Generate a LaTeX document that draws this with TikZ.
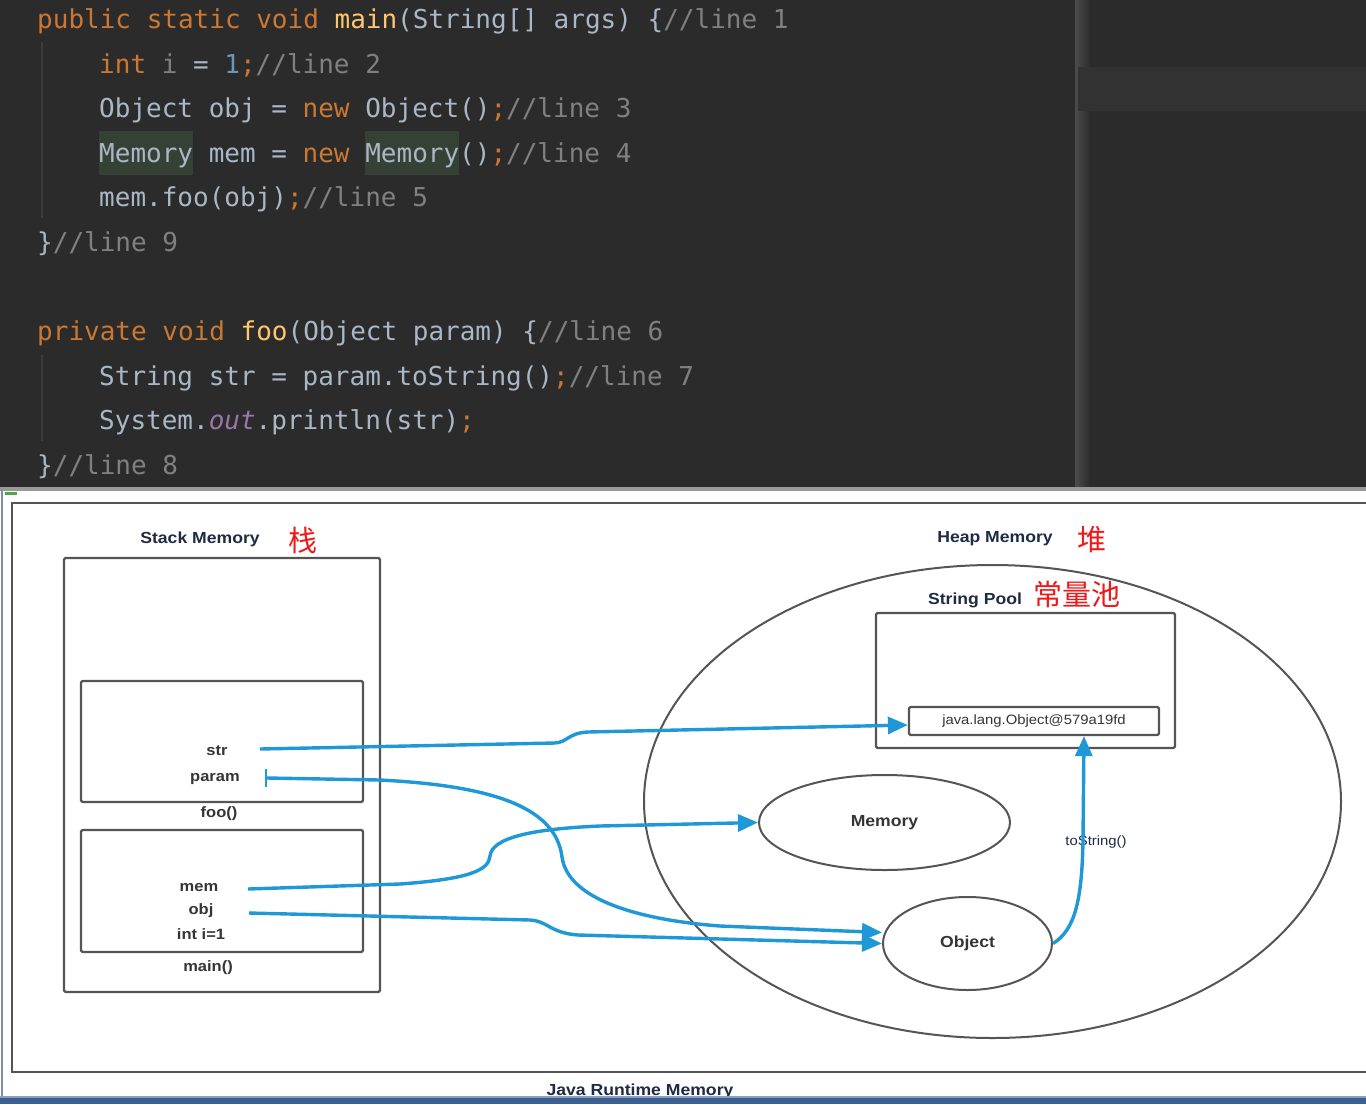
\documentclass[tikz,border=0pt]{standalone}
\usepackage{fontspec}
\setmainfont{Liberation Sans}
\newfontfamily\codefont{DejaVu Sans Mono}
\newfontfamily\cjkfont{Noto Sans CJK SC}
\newfontfamily\diagfont[FakeStretch=1.1]{Liberation Sans}
\usetikzlibrary{arrows.meta,shapes.geometric}
\definecolor{codebg}{HTML}{2B2B2B}
\definecolor{bandc}{HTML}{323232}
\definecolor{sepc}{HTML}{4A4A4A}
\definecolor{guidec}{HTML}{3C3C3C}
\definecolor{kw}{HTML}{CC7832}
\definecolor{fn}{HTML}{FFC66D}
\definecolor{txt}{HTML}{A9B7C6}
\definecolor{cm}{HTML}{808080}
\definecolor{num}{HTML}{6897BB}
\definecolor{pur}{HTML}{9876AA}
\definecolor{hl}{HTML}{344134}
\definecolor{framec}{HTML}{555555}
\definecolor{headc}{HTML}{1F2A44}
\definecolor{lblc}{HTML}{353535}
\definecolor{redc}{HTML}{F01818}
\definecolor{ptrc}{HTML}{1E98D6}
\definecolor{barc}{HTML}{3B5F91}
\definecolor{edgec}{HTML}{7A90B2}
\tikzset{
  code/.style={anchor=base west, inner sep=0pt, font=\codefont\fontsize{26}{26}\selectfont},
  hd/.style={inner sep=0pt, text=headc, font=\diagfont\bfseries\fontsize{16}{16}\selectfont},
  lbl/.style={inner sep=0pt, text=lblc, font=\diagfont\bfseries\fontsize{15}{15}\selectfont},
  cn/.style={inner sep=0pt, text=redc, font=\cjkfont\fontsize{29}{29}\selectfont},
  framebox/.style={draw=framec, line width=2.2pt, rounded corners=1.5pt, rectangle, inner sep=0pt},
  oval/.style={draw=framec, line width=2pt, ellipse, inner sep=0pt},
  ptr/.style={draw=ptrc, line width=3.4pt, -{Triangle[length=20pt,width=17pt]}},
}
\begin{document}
\begin{tikzpicture}[x=1pt,y=-1pt]
\useasboundingbox (0,0) rectangle (1366,1104);
\clip (0,0) rectangle (1366,1104);
% ---------- code editor ----------
\fill[codebg] (0,0) rectangle (1366,488);
\shade[left color=sepc, right color=codebg] (1076,0) rectangle (1090,488);
\fill[bandc] (1078,67) rectangle (1366,111);
\draw[sepc, line width=2pt] (1076,0) -- (1076,488);
\draw[guidec, line width=1.5pt] (42,42) -- (42,218);
\draw[guidec, line width=1.5pt] (42,355) -- (42,441);
\fill[hl] (99,131) rectangle (193,175);
\fill[hl] (365,131) rectangle (459,175);
\node[code] (l1) at (37,28) {\textcolor{kw}{public static void }\textcolor{fn}{main}\textcolor{txt}{(String[] args) \{}\textcolor{cm}{//line 1}};
\node[code] (l2) at (99,73) {\textcolor{kw}{int }\textcolor{cm}{i }\textcolor{txt}{= }\textcolor{num}{1}\textcolor{kw}{;}\textcolor{cm}{//line 2}};
\node[code] (l3) at (99,117) {\textcolor{txt}{Object obj = }\textcolor{kw}{new }\textcolor{txt}{Object()}\textcolor{kw}{;}\textcolor{cm}{//line 3}};
\node[code] (l4) at (99,162) {\textcolor{txt}{Memory mem = }\textcolor{kw}{new }\textcolor{txt}{Memory()}\textcolor{kw}{;}\textcolor{cm}{//line 4}};
\node[code] (l5) at (99,206) {\textcolor{txt}{mem.foo(obj)}\textcolor{kw}{;}\textcolor{cm}{//line 5}};
\node[code] (l9) at (37,251) {\textcolor{txt}{\}}\textcolor{cm}{//line 9}};
\node[code] (l6) at (37,340) {\textcolor{kw}{private void }\textcolor{fn}{foo}\textcolor{txt}{(Object param) \{}\textcolor{cm}{//line 6}};
\node[code] (l7) at (99,385) {\textcolor{txt}{String str = param.toString()}\textcolor{kw}{;}\textcolor{cm}{//line 7}};
\node[code] (l7b) at (99,429) {\textcolor{txt}{System.}\textcolor{pur}{\itshape out}\textcolor{txt}{.println(str)}\textcolor{kw}{;}};
\node[code] (l8) at (37,474) {\textcolor{txt}{\}}\textcolor{cm}{//line 8}};
% ---------- diagram ----------
\fill[white] (0,488) rectangle (1366,1104);
\fill[black!40] (0,487) rectangle (1366,491);
\draw[edgec, line width=2pt] (2,490) -- (2,1104);
\fill[green!50!black!70] (5,492) rectangle (17,495);
\draw[framec, line width=2.2pt] (12,503) rectangle (1380,1072);
% stack
\node[hd] (stackhd) at (200,539) {Stack Memory};
\node[cn] (zhan) at (303,540) {栈};
\node[framebox, minimum width=316pt, minimum height=434pt] (stack) at (222,775) {};
\node[framebox, minimum width=282pt, minimum height=121pt] (foo) at (222,741.5) {};
\node[framebox, minimum width=282pt, minimum height=122pt] (mainf) at (222,891) {};
\node[lbl] (str) at (217,751) {str};
\node[lbl] (param) at (215,779) {param};
\node[lbl] (foolbl) at (219,814) {foo()};
\node[lbl] (memv) at (199,888) {mem};
\node[lbl] (objv) at (201,911) {obj};
\node[lbl] (intv) at (201,934) {int i=1};
\node[lbl] (mainlbl) at (208,968) {main()};
% heap
\node[hd] (heaphd) at (995,539) {Heap Memory};
\node[cn] (dui) at (1092,540) {堆};
\node[oval, minimum width=697pt, minimum height=473pt] (heap) at (992.5,801.5) {};
\node[hd] (poolhd) at (975,600) {String Pool};
\node[cn] (pool) at (1077,594) {常量池};
\node[framebox, minimum width=299pt, minimum height=135pt] (poolbox) at (1025.5,680.5) {};
\node[framebox, minimum width=250pt, minimum height=28pt, text=lblc, font=\diagfont\fontsize{13.5}{13.5}\selectfont] (jl) at (1034,721) {java.lang.Object@579a19fd};
\node[oval, minimum width=251pt, minimum height=95pt, text=lblc, font=\diagfont\bfseries\fontsize{16}{16}\selectfont] (memo) at (884.5,822.5) {Memory};
\node[oval, minimum width=169pt, minimum height=93pt, text=lblc, font=\diagfont\bfseries\fontsize{16}{16}\selectfont] (objo) at (967.5,943.5) {Object};
\node[inner sep=0pt, text=headc, font=\diagfont\fontsize{13.5}{13.5}\selectfont] (tos) at (1096,842) {toString()};
% connectors
\coordinate (sS) at (260,749);
\coordinate (pS) at (267,778);
\coordinate (mS) at (248,889);
\coordinate (oS) at (249,913);
\draw[ptr] (sS) -- (555,743) .. controls (568,742) and (568,733) .. (588,732) -- ([yshift=-4pt]jl.west);
\draw[ptrc, line width=2pt] (266,769) -- (266,787);
\draw[ptr] (pS) -- (380,780) .. controls (500,786) and (556,810) .. (562,857) .. controls (568,900) and (640,920) .. (720,926) -- ([yshift=11pt]objo.west);
\draw[ptr] (mS) -- (400,884) .. controls (470,879) and (489,870) .. (490,856) .. controls (492,838) and (530,829) .. (600,826) -- (memo.west);
\draw[ptr] (oS) -- (530,920) .. controls (548,921) and (550,933) .. (578,935) -- (objo.west);
\draw[ptr] (objo.east) .. controls (1075,930) and (1082,900) .. (1083,840) -- ([xshift=50pt]jl.south);
% bottom
\node[hd, anchor=base] (jrm) at (640,1095) {Java Runtime Memory};
\fill[barc] (0,1097) rectangle (1366,1104);
\fill[barc!60!white] (0,1096) rectangle (1366,1097.5);
\end{tikzpicture}
\end{document}
